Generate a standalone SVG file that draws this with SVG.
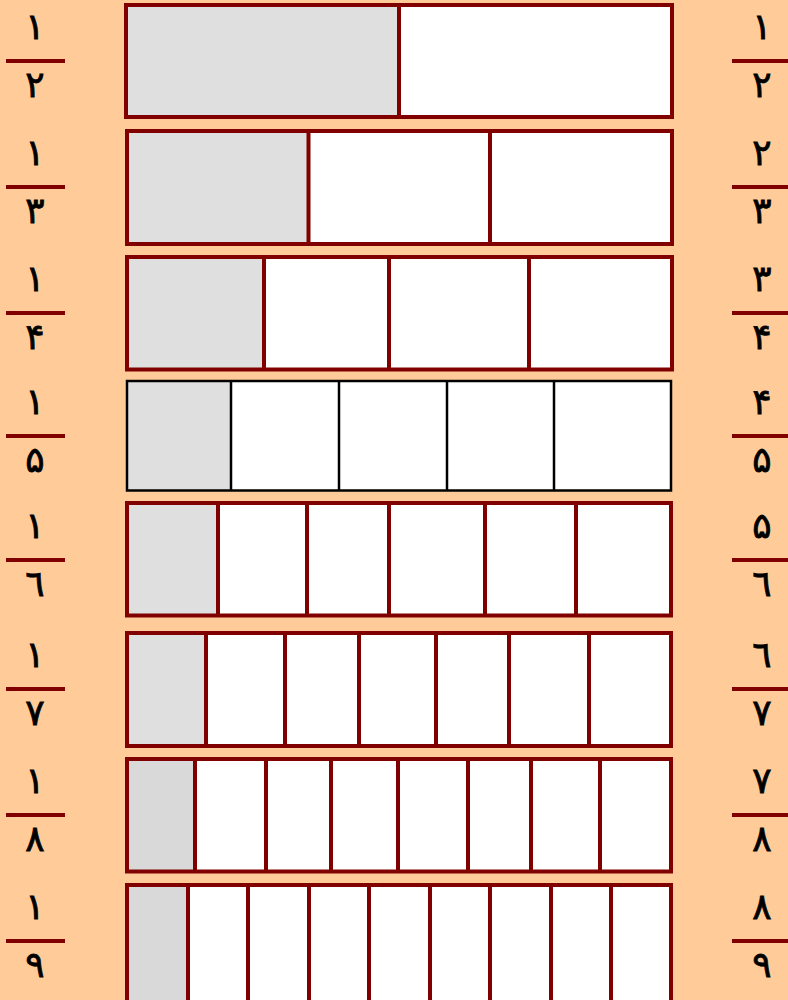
<svg xmlns="http://www.w3.org/2000/svg" width="788" height="1000" viewBox="0 0 788 1000">
<style>
.bg{fill:#FFCC99}
.cell{fill:#FFFFFF}
.sh{fill:#DFDFDF}
.sh2{fill:#D9D9D9}
.brd{fill:none;stroke:#800000;stroke-width:4}
.dv{stroke:#800000;stroke-width:4}
.brdk{fill:none;stroke:#000000;stroke-width:2.5}
.dvk{stroke:#000000;stroke-width:2.5}
.fl{stroke:#800000;stroke-width:4}
.num{font-family:"DejaVu Sans",sans-serif;font-size:36px;fill:#000;stroke:#000;stroke-width:0.8;text-anchor:middle}
</style>
<rect class="bg" x="0" y="0" width="788" height="1000"/>

<g id="bar-2">
<rect class="cell" x="126" y="5" width="546" height="112"/>
<rect class="sh" x="126" y="5" width="273" height="112"/>
<line class="dv" x1="399" y1="5" x2="399" y2="117"/>
<rect class="brd" x="126" y="5" width="546" height="112"/>
</g>

<g id="bar-3">
<rect class="cell" x="127" y="131" width="545" height="113"/>
<rect class="sh" x="127" y="131" width="181.5" height="113"/>
<line class="dv" x1="308.5" y1="131" x2="308.5" y2="244"/>
<line class="dv" x1="490" y1="131" x2="490" y2="244"/>
<rect class="brd" x="127" y="131" width="545" height="113"/>
</g>

<g id="bar-4">
<rect class="cell" x="127" y="257" width="545" height="112.5"/>
<rect class="sh" x="127" y="257" width="137" height="112.5"/>
<line class="dv" x1="264" y1="257" x2="264" y2="369.5"/>
<line class="dv" x1="389" y1="257" x2="389" y2="369.5"/>
<line class="dv" x1="529" y1="257" x2="529" y2="369.5"/>
<rect class="brd" x="127" y="257" width="545" height="112.5"/>
</g>

<g id="bar-5">
<rect class="cell" x="127" y="381" width="544" height="109.5"/>
<rect class="sh" x="127" y="381" width="104" height="109.5"/>
<line class="dvk" x1="231" y1="381" x2="231" y2="490.5"/>
<line class="dvk" x1="339" y1="381" x2="339" y2="490.5"/>
<line class="dvk" x1="447" y1="381" x2="447" y2="490.5"/>
<line class="dvk" x1="554" y1="381" x2="554" y2="490.5"/>
<rect class="brdk" x="127" y="381" width="544" height="109.5"/>
</g>

<g id="bar-6">
<rect class="cell" x="127" y="503" width="544" height="112.5"/>
<rect class="sh" x="127" y="503" width="91" height="112.5"/>
<line class="dv" x1="218" y1="503" x2="218" y2="615.5"/>
<line class="dv" x1="307" y1="503" x2="307" y2="615.5"/>
<line class="dv" x1="389" y1="503" x2="389" y2="615.5"/>
<line class="dv" x1="485" y1="503" x2="485" y2="615.5"/>
<line class="dv" x1="576" y1="503" x2="576" y2="615.5"/>
<rect class="brd" x="127" y="503" width="544" height="112.5"/>
</g>

<g id="bar-7">
<rect class="cell" x="127" y="633" width="544" height="113"/>
<rect class="sh" x="127" y="633" width="79" height="113"/>
<line class="dv" x1="206" y1="633" x2="206" y2="746"/>
<line class="dv" x1="285" y1="633" x2="285" y2="746"/>
<line class="dv" x1="359" y1="633" x2="359" y2="746"/>
<line class="dv" x1="436" y1="633" x2="436" y2="746"/>
<line class="dv" x1="509" y1="633" x2="509" y2="746"/>
<line class="dv" x1="589" y1="633" x2="589" y2="746"/>
<rect class="brd" x="127" y="633" width="544" height="113"/>
</g>

<g id="bar-8">
<rect class="cell" x="127" y="759" width="544" height="112.5"/>
<rect class="sh2" x="127" y="759" width="68" height="112.5"/>
<line class="dv" x1="195" y1="759" x2="195" y2="871.5"/>
<line class="dv" x1="266" y1="759" x2="266" y2="871.5"/>
<line class="dv" x1="331" y1="759" x2="331" y2="871.5"/>
<line class="dv" x1="398" y1="759" x2="398" y2="871.5"/>
<line class="dv" x1="468" y1="759" x2="468" y2="871.5"/>
<line class="dv" x1="531" y1="759" x2="531" y2="871.5"/>
<line class="dv" x1="600" y1="759" x2="600" y2="871.5"/>
<rect class="brd" x="127" y="759" width="544" height="112.5"/>
</g>

<g id="bar-9">
<rect class="cell" x="127" y="885" width="544" height="120"/>
<rect class="sh2" x="127" y="885" width="61" height="120"/>
<line class="dv" x1="188" y1="885" x2="188" y2="1005"/>
<line class="dv" x1="248" y1="885" x2="248" y2="1005"/>
<line class="dv" x1="309" y1="885" x2="309" y2="1005"/>
<line class="dv" x1="369" y1="885" x2="369" y2="1005"/>
<line class="dv" x1="430" y1="885" x2="430" y2="1005"/>
<line class="dv" x1="490" y1="885" x2="490" y2="1005"/>
<line class="dv" x1="551" y1="885" x2="551" y2="1005"/>
<line class="dv" x1="611" y1="885" x2="611" y2="1005"/>
<rect class="brd" x="127" y="885" width="544" height="120"/>
</g>

<g id="fractions-left">
<line class="fl" x1="6" y1="61" x2="65" y2="61"/><text class="num" x="35" y="39">۱</text><text class="num" x="35" y="97">۲</text>
<line class="fl" x1="6" y1="187" x2="65" y2="187"/><text class="num" x="35" y="165">۱</text><text class="num" x="35" y="223">۳</text>
<line class="fl" x1="6" y1="313" x2="65" y2="313"/><text class="num" x="35" y="291">۱</text><text class="num" x="35" y="349">۴</text>
<line class="fl" x1="6" y1="436" x2="65" y2="436"/><text class="num" x="35" y="414">۱</text><text class="num" x="35" y="472">۵</text>
<line class="fl" x1="6" y1="560" x2="65" y2="560"/><text class="num" x="35" y="538">۱</text><text class="num" x="35" y="596">٦</text>
<line class="fl" x1="6" y1="689" x2="65" y2="689"/><text class="num" x="35" y="667">۱</text><text class="num" x="35" y="725">۷</text>
<line class="fl" x1="6" y1="815" x2="65" y2="815"/><text class="num" x="35" y="793">۱</text><text class="num" x="35" y="851">۸</text>
<line class="fl" x1="6" y1="941" x2="65" y2="941"/><text class="num" x="35" y="919">۱</text><text class="num" x="35" y="977">۹</text>
</g>

<g id="fractions-right">
<line class="fl" x1="732" y1="61" x2="788" y2="61"/><text class="num" x="762" y="39">۱</text><text class="num" x="762" y="97">۲</text>
<line class="fl" x1="732" y1="187" x2="788" y2="187"/><text class="num" x="762" y="165">۲</text><text class="num" x="762" y="223">۳</text>
<line class="fl" x1="732" y1="313" x2="788" y2="313"/><text class="num" x="762" y="291">۳</text><text class="num" x="762" y="349">۴</text>
<line class="fl" x1="732" y1="436" x2="788" y2="436"/><text class="num" x="762" y="414">۴</text><text class="num" x="762" y="472">۵</text>
<line class="fl" x1="732" y1="560" x2="788" y2="560"/><text class="num" x="762" y="538">۵</text><text class="num" x="762" y="596">٦</text>
<line class="fl" x1="732" y1="689" x2="788" y2="689"/><text class="num" x="762" y="667">٦</text><text class="num" x="762" y="725">۷</text>
<line class="fl" x1="732" y1="815" x2="788" y2="815"/><text class="num" x="762" y="793">۷</text><text class="num" x="762" y="851">۸</text>
<line class="fl" x1="732" y1="941" x2="788" y2="941"/><text class="num" x="762" y="919">۸</text><text class="num" x="762" y="977">۹</text>
</g>
</svg>
